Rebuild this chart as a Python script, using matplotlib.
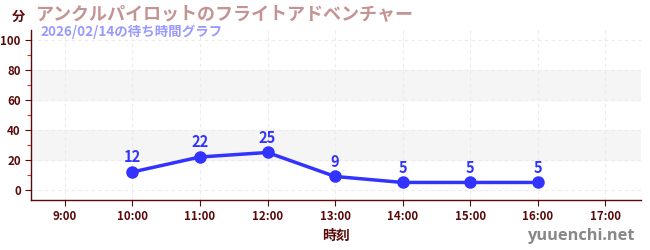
import matplotlib
matplotlib.use("Agg")
import matplotlib.pyplot as plt
from matplotlib.ticker import FixedLocator

plt.rcParams['font.family'] = ['Noto Sans CJK JP', 'DejaVu Sans']

# === datos ===
horas = [10, 11, 12, 13, 14, 15, 16]
espera = [12, 22, 25, 9, 5, 5, 5]
ticks_x = [9, 10, 11, 12, 13, 14, 15, 16, 17]
etiquetas_x = ["9:00", "10:00", "11:00", "12:00", "13:00", "14:00", "15:00", "16:00", "17:00"]
ticks_y = [0, 20, 40, 60, 80, 100]

titulo = "アンクルパイロットのフライトアドベンチャー"
subtitulo = "2026/02/14の待ち時間グラフ"

rojo_osc = "#5a0a0a"
azul = "#3333ff"

fig = plt.figure(figsize=(6.5, 2.5), dpi=100)
ax = fig.add_axes([0.048, 0.2, 0.938, 0.68])

# bandas grises
for y0 in [20, 60]:
    ax.axhspan(y0, y0 + 20, color="#f5f5f5", zorder=0)

ax.plot(horas, espera, color=azul, lw=2.5, marker="o", ms=8, zorder=3)
for x, y in zip(horas, espera):
    ax.annotate(str(y), (x, y), xytext=(0, 5), textcoords="offset points",
                ha="center", va="bottom", color=azul, fontsize=10.5, fontweight="bold")

ax.set_xlim(8.5, 17.53)
ax.set_ylim(-6.7, 106.7)
ax.set_xticks(ticks_x)
ax.set_xticklabels(etiquetas_x)
ax.set_yticks(ticks_y)
ax.yaxis.set_minor_locator(FixedLocator([10, 30, 50, 70, 90]))

ax.grid(True, which="major", ls=(0, (3, 3)), color="#ebebeb", lw=0.8)
ax.set_axisbelow(True)

for s in ["top", "right"]:
    ax.spines[s].set_visible(False)
for s in ["left", "bottom"]:
    ax.spines[s].set_color(rojo_osc)
    ax.spines[s].set_linewidth(1)

ax.tick_params(axis="both", which="major", colors=rojo_osc, labelsize=8.3, length=4, width=0.8)
ax.tick_params(axis="y", which="minor", colors="#e03030", length=3, width=0.8)
for lab in ax.get_xticklabels() + ax.get_yticklabels():
    lab.set_fontweight("bold")
    lab.set_color(rojo_osc)

ax.set_xlabel("時刻", color=rojo_osc, fontsize=10, fontweight="bold", labelpad=4)

fig.text(0.028, 0.932, "分", color=rojo_osc, fontsize=9.5, fontweight="bold", ha="center", va="center")
fig.text(0.055, 0.945, titulo, color="#c49494", fontsize=13, fontweight="bold", ha="left", va="center")
fig.text(0.062, 0.872, subtitulo, color="#9999ff", fontsize=9.7, fontweight="bold", ha="left", va="center")
fig.text(0.976, 0.058, "yuuenchi.net", color="#888888", fontsize=11.8, fontweight="bold", ha="right",
         va="center", family=["Open Sans", "DejaVu Sans"])

fig.savefig("out.png", dpi=100)
